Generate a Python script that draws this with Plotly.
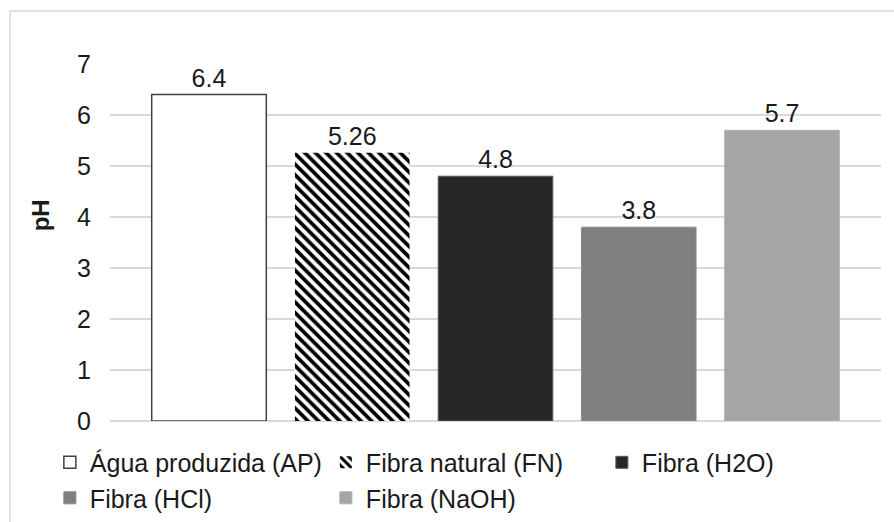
import plotly.graph_objects as go

series_names = ["Água produzida (AP)", "Fibra natural (FN)", "Fibra (H2O)", "Fibra (HCl)", "Fibra (NaOH)"]
ph_values = [6.4, 5.26, 4.8, 3.8, 5.7]
value_labels = ["6.4", "5.26", "4.8", "3.8", "5.7"]
y_ticks = [0, 1, 2, 3, 4, 5, 6, 7]

fills = ["#ffffff", "#ffffff", "#262626", "#7f7f7f", "#a5a5a5"]
outlines = ["#404040", "rgba(0,0,0,0)", "#595959", "#8c8c8c", "#b0b0b0"]
line_widths = [1.5, 0, 1, 1, 1]

FONT = "Liberation Sans, Arial, sans-serif"
TXT = "#1a1a1a"

fig = go.Figure()
for i, name in enumerate(series_names):
    marker = dict(color=fills[i], line=dict(color=outlines[i], width=line_widths[i]))
    if i == 1:
        marker["pattern"] = dict(shape="\\", size=7.5, solidity=0.5, fgcolor="#000000", bgcolor="#ffffff", fillmode="replace")
    fig.add_trace(go.Bar(
        x=[""], y=[ph_values[i]], name=name, marker=marker,
        text=[value_labels[i]], textposition="outside", cliponaxis=False,
        textfont=dict(family=FONT, size=25, color=TXT),
    ))

fig.update_layout(
    width=894, height=522,
    margin=dict(l=110, r=13, t=64, b=101, autoexpand=False),
    paper_bgcolor="white", plot_bgcolor="white",
    barmode="group", bargap=0.071, bargroupgap=0.2,
    font=dict(family=FONT, size=25, color=TXT),
    showlegend=True,
    legend=dict(
        orientation="h", x=-0.078, xanchor="left", y=-0.052, yanchor="top",
        font=dict(family=FONT, size=25, color=TXT),
        entrywidth=231, entrywidthmode="pixels",
        itemclick=False, itemdoubleclick=False, traceorder="normal",
    ),
    xaxis=dict(showticklabels=False, showgrid=False, zeroline=False, showline=False, ticks=""),
    yaxis=dict(
        range=[0, 7], tickvals=y_ticks, ticks="", showgrid=True, gridcolor="#d9d9d9", gridwidth=1.5,
        zeroline=True, zerolinecolor="#d9d9d9", zerolinewidth=1.5, showline=False,
        tickfont=dict(family=FONT, size=25, color=TXT), ticklabelstandoff=18,
    ),
    annotations=[dict(
        text="<b>pH</b>", xref="paper", yref="paper", x=-0.09, y=0.575,
        textangle=-90, showarrow=False, font=dict(family=FONT, size=24, color=TXT),
        xanchor="center", yanchor="middle",
    )],
    shapes=[dict(
        type="rect", xref="paper", yref="paper", x0=-0.1297, x1=1.06, y0=-0.4, y1=1.1485,
        line=dict(color="#d9d9d9", width=1.5), fillcolor="rgba(0,0,0,0)", layer="below",
    )],
)

fig.write_html("out.html")
